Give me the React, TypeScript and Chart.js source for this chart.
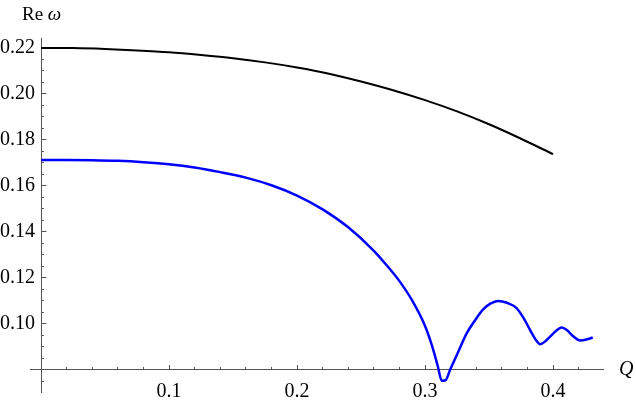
import React, { useEffect, useRef } from "react";
import { Chart, registerables } from "chart.js";

Chart.register(...registerables);

// Upper (black) branch: Q vs Re ω
const blackQ = [0, 0.025, 0.05, 0.075, 0.1, 0.125, 0.15, 0.175, 0.2, 0.225, 0.25, 0.275, 0.3, 0.325, 0.35, 0.375, 0.4];
const blackRe = [0.2200, 0.2199, 0.2195, 0.2189, 0.2181, 0.2169, 0.2155, 0.2137, 0.2115, 0.2088, 0.2054, 0.2016, 0.1973, 0.1924, 0.1868, 0.1805, 0.1738];

// Lower (blue) branch: Q vs Re ω
const blueQ = [0, 0.02, 0.04, 0.06, 0.08, 0.1, 0.12, 0.14, 0.16, 0.18, 0.2, 0.22, 0.24, 0.26, 0.27, 0.28, 0.29, 0.3, 0.306, 0.31, 0.313, 0.316, 0.3195, 0.325, 0.3326, 0.339, 0.345, 0.351, 0.357, 0.364, 0.3716, 0.377, 0.382, 0.386, 0.39, 0.394, 0.3977, 0.402, 0.4068, 0.411, 0.416, 0.4211, 0.426, 0.431];
const blueRe = [0.1713, 0.1713, 0.1712, 0.1709, 0.1703, 0.1694, 0.1680, 0.1660, 0.1636, 0.1603, 0.1558, 0.1498, 0.1420, 0.1318, 0.1255, 0.1186, 0.1101, 0.0991, 0.0895, 0.0815, 0.0753, 0.0755, 0.0800, 0.0867, 0.0960, 0.1015, 0.1061, 0.1088, 0.1100, 0.1092, 0.1068, 0.1025, 0.0974, 0.0935, 0.0912, 0.0925, 0.0945, 0.0968, 0.0984, 0.0972, 0.0945, 0.0928, 0.0932, 0.0941];

const xMajorTicks = [0.1, 0.2, 0.3, 0.4];
const yMajorTicks = [0.10, 0.12, 0.14, 0.16, 0.18, 0.20, 0.22];

const X_MIN = -0.0086;
const X_MAX = 0.439;
const Y_MIN = 0.0704;
const Y_MAX = 0.2243;
const AXIS_CROSS_Y = 0.08;

const FONT = "Liberation Serif";
const AXIS_COLOR = "#555555";

const near = (v: number, list: number[]) => list.some((t) => Math.abs(t - v) < 1e-6);

const noPad = (scale: any) => {
  scale.paddingTop = 0;
  scale.paddingBottom = 0;
  scale.paddingLeft = 0;
  scale.paddingRight = 0;
};

const axisLabels = {
  id: "axisLabels",
  afterDraw(chart: any) {
    const ctx = chart.ctx;
    const xs = chart.scales.x;
    const ys = chart.scales.y;
    const x0 = xs.getPixelForValue(0);
    const yAxis = ys.getPixelForValue(AXIS_CROSS_Y);
    ctx.save();
    ctx.fillStyle = "#000";
    ctx.textBaseline = "alphabetic";
    ctx.textAlign = "left";
    ctx.font = `19px "${FONT}"`;
    const reText = "Re ";
    const lx = x0 - 19;
    const ly = ys.top - 18;
    ctx.fillText(reText, lx, ly);
    const w = ctx.measureText(reText).width;
    ctx.font = `italic 19px "${FONT}"`;
    ctx.fillText("ω", lx + w, ly);
    ctx.font = `italic 20px "${FONT}"`;
    ctx.fillText("Q", xs.right + 16, yAxis + 5);
    ctx.restore();
  },
};

export default function App() {
  const ref = useRef<HTMLCanvasElement | null>(null);
  useEffect(() => {
    if (!ref.current) return;
    const chart = new Chart(ref.current, {
      type: "line",
      data: {
        datasets: [
          {
            label: "upper",
            data: blackQ.map((q, i) => ({ x: q, y: blackRe[i] })),
            borderColor: "#000000",
            borderWidth: 2,
            pointRadius: 0,
            cubicInterpolationMode: "monotone",
            fill: false,
            xAxisID: "x",
            yAxisID: "y",
          },
          {
            label: "lower",
            data: blueQ.map((q, i) => ({ x: q, y: blueRe[i] })),
            borderColor: "#0000ff",
            borderWidth: 2.5,
            pointRadius: 0,
            cubicInterpolationMode: "monotone",
            fill: false,
            xAxisID: "x",
            yAxisID: "y",
          },
        ],
      },
      options: {
        responsive: false,
        animation: false,
        devicePixelRatio: 1,
        layout: { padding: { left: 0, right: 33, top: 38, bottom: 8 } },
        plugins: { legend: { display: false }, tooltip: { enabled: false }, title: { display: false } },
        scales: {
          x: {
            type: "linear",
            min: X_MIN,
            max: X_MAX,
            position: { y: AXIS_CROSS_Y } as any,
            afterFit: noPad,
            grid: { drawOnChartArea: false, drawTicks: true, tickLength: -5, color: AXIS_COLOR, tickWidth: 1 },
            border: { display: true, color: AXIS_COLOR, width: 1 },
            ticks: {
              stepSize: 0.1,
              includeBounds: false,
              autoSkip: false,
              maxRotation: 0,
              padding: 15,
              color: "#000",
              font: { family: FONT, size: 20 },
              callback: (v: any) => (near(Number(v), xMajorTicks) ? Number(v).toFixed(1) : ""),
            },
          },
          xMinor: {
            type: "linear",
            min: X_MIN,
            max: X_MAX,
            position: { y: AXIS_CROSS_Y } as any,
            afterFit: noPad,
            grid: { drawOnChartArea: false, drawTicks: true, tickLength: -3, color: AXIS_COLOR, tickWidth: 1 },
            border: { display: false },
            ticks: { stepSize: 0.02, includeBounds: false, autoSkip: false, display: false },
          },
          y: {
            type: "linear",
            min: Y_MIN,
            max: Y_MAX,
            position: { x: 0 } as any,
            afterFit: noPad,
            grid: { drawOnChartArea: false, drawTicks: true, tickLength: -5.5, color: AXIS_COLOR, tickWidth: 1 },
            border: { display: true, color: AXIS_COLOR, width: 1 },
            ticks: { stepSize: 0.02, includeBounds: false, autoSkip: false, display: false },
          },
          yMinor: {
            type: "linear",
            min: Y_MIN,
            max: Y_MAX,
            position: { x: 0 } as any,
            afterFit: noPad,
            grid: { drawOnChartArea: false, drawTicks: true, tickLength: -3, color: AXIS_COLOR, tickWidth: 1 },
            border: { display: false },
            ticks: { stepSize: 0.005, includeBounds: false, autoSkip: false, display: false },
          },
          yLabels: {
            type: "linear",
            min: Y_MIN,
            max: Y_MAX,
            position: "left",
            afterFit: (scale: any) => {
              noPad(scale);
              scale.width = 30;
            },
            grid: { display: false, drawOnChartArea: false, drawTicks: false, tickLength: 0 },
            border: { display: false },
            ticks: {
              stepSize: 0.02,
              includeBounds: false,
              autoSkip: false,
              mirror: true,
              crossAlign: "far",
              padding: -30,
              color: "#000",
              font: { family: FONT, size: 20 },
              callback: (v: any) => (near(Number(v), yMajorTicks) ? Number(v).toFixed(2) : ""),
            },
          },
        },
      },
      plugins: [axisLabels],
    });
    return () => chart.destroy();
  }, []);
  return (
    <canvas
      ref={ref}
      width={636}
      height={400}
      style={{ position: "fixed", left: 0, top: 0, width: 636, height: 400, background: "#fff" }}
    />
  );
}
